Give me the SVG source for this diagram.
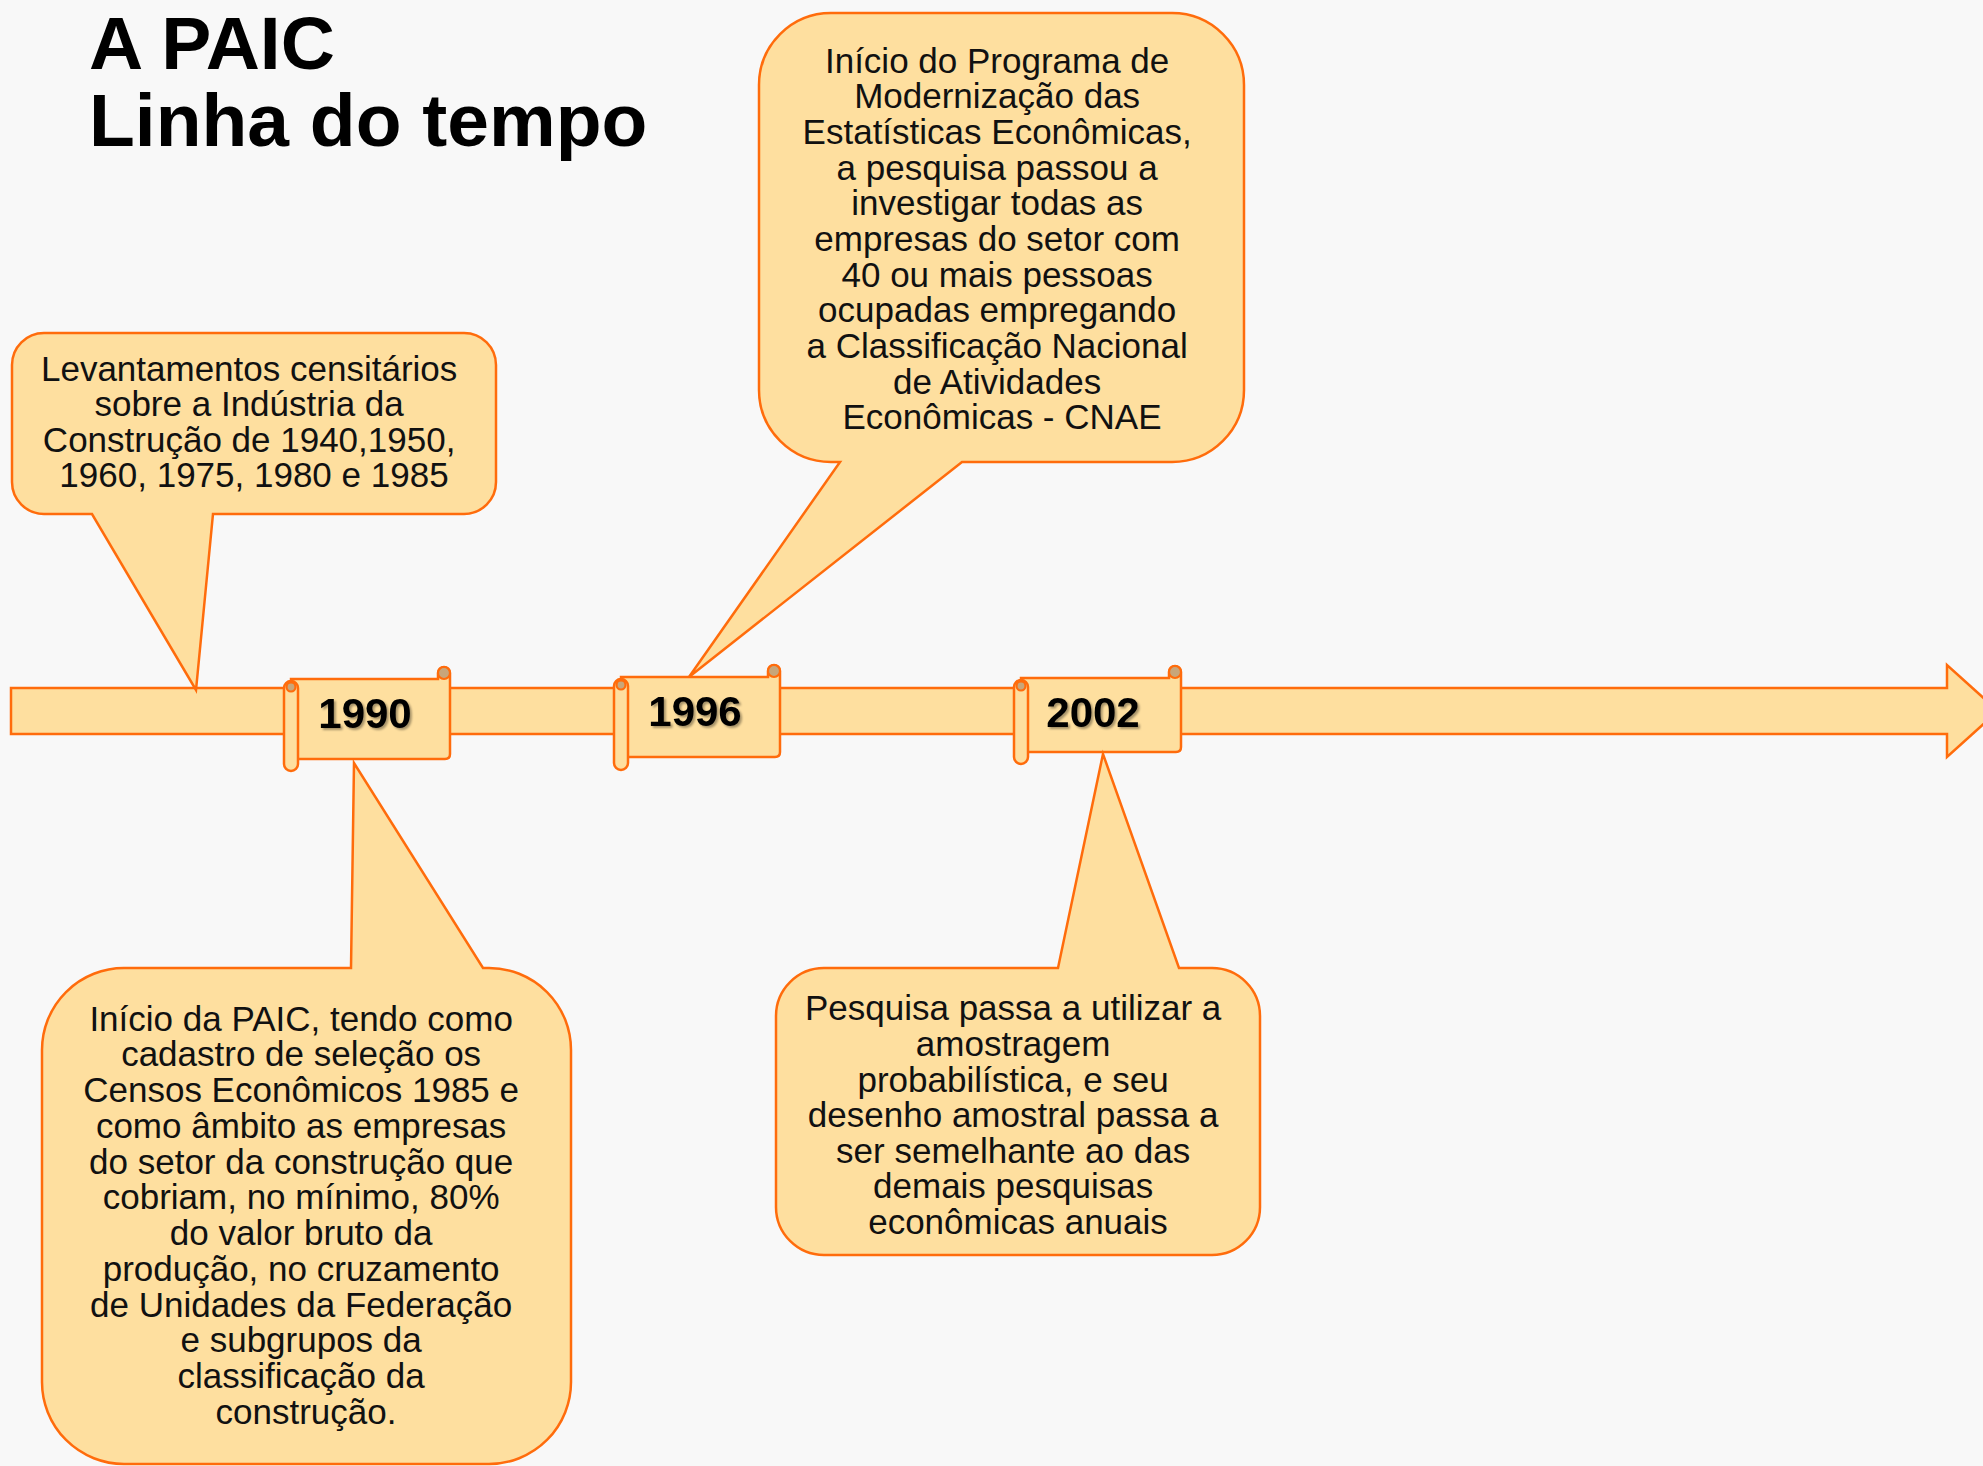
<svg xmlns="http://www.w3.org/2000/svg" width="1983" height="1466" viewBox="0 0 1983 1466">
<defs>
<style>
.shape{fill:#FEDF9F;stroke:#FF6C0C;stroke-width:2.5;stroke-linejoin:miter}
.curl{fill:#C8A67A;stroke:#FF6C0C;stroke-width:2.2}
.title{font-family:"Liberation Sans",Arial,sans-serif;font-weight:bold;font-size:75px;fill:#000}
.body{font-family:"Liberation Sans",Arial,sans-serif;font-size:35px;fill:#111;text-anchor:middle}
.year{font-family:"Liberation Sans",Arial,sans-serif;font-weight:bold;font-size:42px;fill:#000;text-anchor:middle;filter:url(#shadow)}
</style>
<filter id="shadow" x="-20%" y="-30%" width="140%" height="160%">
<feDropShadow dx="2" dy="2" stdDeviation="1.2" flood-color="#000" flood-opacity="0.35"/>
</filter>
</defs>
<rect x="0" y="0" width="1983" height="1466" fill="#F8F8F8"/>

<g id="title">
<text class="title" x="89" y="69">A PAIC</text>
<text class="title" x="89" y="146">Linha do tempo</text>
</g>

<g id="timeline">
<path class="shape" d="M11 688 H1947 V665 L1998 711 L1947 757 V734 H11 Z"/>
</g>

<g id="year-1990">
<path class="shape" d="M291 679 H438 V673 A6 6 0 0 1 450 673 V754 Q450 759 445 759 H291 Z"/>
<circle class="curl" cx="444" cy="673" r="6"/>
<rect class="shape" x="284" y="681" width="14" height="90" rx="7"/>
<circle class="curl" cx="291" cy="687" r="4.5"/>
<text class="year" x="365" y="728">1990</text>
</g>

<g id="year-1996">
<path class="shape" d="M621 677 H768 V671 A6 6 0 0 1 780 671 V752 Q780 757 775 757 H621 Z"/>
<circle class="curl" cx="774" cy="671" r="6"/>
<rect class="shape" x="614" y="679" width="14" height="91" rx="7"/>
<circle class="curl" cx="621" cy="685" r="4.5"/>
<text class="year" x="695" y="726">1996</text>
</g>

<g id="year-2002">
<path class="shape" d="M1021 678 H1169 V672 A6 6 0 0 1 1181 672 V747 Q1181 752 1176 752 H1021 Z"/>
<circle class="curl" cx="1175" cy="672" r="6"/>
<rect class="shape" x="1014" y="680" width="14" height="84" rx="7"/>
<circle class="curl" cx="1021" cy="686" r="4.5"/>
<text class="year" x="1093" y="727">2002</text>
</g>

<g id="connectors">
</g>

<g id="callout-censos">
<path class="shape" d="M44 333 H464 A32 32 0 0 1 496 365 V482 A32 32 0 0 1 464 514 H213 L196 690 L92 514 H44 A32 32 0 0 1 12 482 V365 A32 32 0 0 1 44 333 Z"/>
<text class="body">
<tspan x="254" y="381">Levantamentos censitários</tspan>
<tspan x="254" y="416.3">sobre a Indústria da</tspan>
<tspan x="254" y="451.6">Construção de 1940,1950,</tspan>
<tspan x="254" y="487">1960, 1975, 1980 e 1985</tspan>
</text>
</g>

<g id="callout-1996">
<path class="shape" d="M831 13 H1172 A72 72 0 0 1 1244 85 V390 A72 72 0 0 1 1172 462 H962 L689 677 L840 462 H831 A72 72 0 0 1 759 390 V85 A72 72 0 0 1 831 13 Z"/>
<text class="body">
<tspan x="1002" y="72.7">Início do Programa de</tspan>
<tspan x="1002" y="108.3">Modernização das</tspan>
<tspan x="1002" y="144">Estatísticas Econômicas,</tspan>
<tspan x="1002" y="179.7">a pesquisa passou a</tspan>
<tspan x="1002" y="215.3">investigar todas as</tspan>
<tspan x="1002" y="251">empresas do setor com</tspan>
<tspan x="1002" y="286.7">40 ou mais pessoas</tspan>
<tspan x="1002" y="322.3">ocupadas empregando</tspan>
<tspan x="1002" y="358">a Classificação Nacional</tspan>
<tspan x="1002" y="393.6">de Atividades</tspan>
<tspan x="1002" y="429.3">Econômicas - CNAE</tspan>
</text>
</g>

<g id="callout-1990">
<path class="shape" d="M124 968 H351 L354 763 L483 968 H489 A82 82 0 0 1 571 1050 V1382 A82 82 0 0 1 489 1464 H124 A82 82 0 0 1 42 1382 V1050 A82 82 0 0 1 124 968 Z"/>
<text class="body">
<tspan x="306" y="1030.7">Início da PAIC, tendo como</tspan>
<tspan x="306" y="1066.4">cadastro de seleção os</tspan>
<tspan x="306" y="1102.2">Censos Econômicos 1985 e</tspan>
<tspan x="306" y="1137.9">como âmbito as empresas</tspan>
<tspan x="306" y="1173.7">do setor da construção que</tspan>
<tspan x="306" y="1209.4">cobriam, no mínimo, 80%</tspan>
<tspan x="306" y="1245.1">do valor bruto da</tspan>
<tspan x="306" y="1280.9">produção, no cruzamento</tspan>
<tspan x="306" y="1316.6">de Unidades da Federação</tspan>
<tspan x="306" y="1352.4">e subgrupos da</tspan>
<tspan x="306" y="1388.1">classificação da</tspan>
<tspan x="306" y="1423.8">construção.</tspan>
</text>
</g>

<g id="callout-2002">
<path class="shape" d="M824 968 H1058 L1103 754 L1179 968 H1212 A48 48 0 0 1 1260 1016 V1207 A48 48 0 0 1 1212 1255 H824 A48 48 0 0 1 776 1207 V1016 A48 48 0 0 1 824 968 Z"/>
<text class="body">
<tspan x="1018" y="1020.4">Pesquisa passa a utilizar a</tspan>
<tspan x="1018" y="1056">amostragem</tspan>
<tspan x="1018" y="1091.6">probabilística, e seu</tspan>
<tspan x="1018" y="1127.1">desenho amostral passa a</tspan>
<tspan x="1018" y="1162.7">ser semelhante ao das</tspan>
<tspan x="1018" y="1198.3">demais pesquisas</tspan>
<tspan x="1018" y="1233.9">econômicas anuais</tspan>
</text>
</g>
</svg>
